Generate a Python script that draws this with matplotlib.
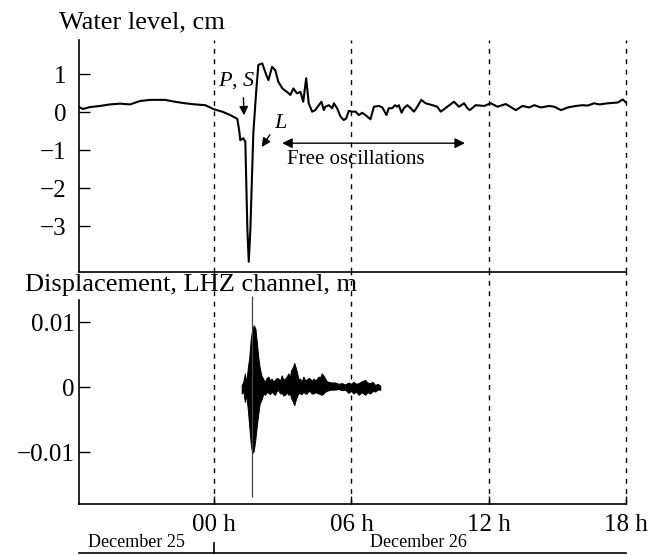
import numpy as np
import matplotlib
matplotlib.use('Agg')
import matplotlib.pyplot as plt

plt.rcParams['font.family'] = ['Liberation Serif', 'DejaVu Serif']
plt.rcParams['mathtext.fontset'] = 'custom'
plt.rcParams['mathtext.it'] = 'Liberation Serif:italic'
plt.rcParams['mathtext.rm'] = 'Liberation Serif'

# water level, hours from 00 h December 26 -> cm
wl_hours = [-5.91, -5.74, -5.43, -4.99, -4.56, -4.12, -3.68, -3.24, -2.80, -2.15,
            -1.71, -1.27, -0.83, -0.39, 0.00, 0.35, 0.70, 1.01, 1.10, 1.14,
            1.27, 1.36, 1.45, 1.51, 1.58, 1.71, 1.84, 1.93, 2.10, 2.28,
            2.37, 2.53, 2.67, 2.80, 2.98, 3.18, 3.33, 3.46, 3.62, 3.77,
            3.89, 4.02, 4.13, 4.28, 4.42, 4.57, 4.69, 4.79, 4.86, 5.01,
            5.16, 5.23, 5.37, 5.52, 5.66, 5.77, 5.88, 6.03, 6.18, 6.32,
            6.47, 6.61, 6.83, 6.98, 7.20, 7.35, 7.53, 7.63, 7.78, 7.90,
            8.00, 8.07, 8.19, 8.29, 8.44, 8.59, 8.73, 8.88, 9.05, 9.24,
            9.54, 9.75, 9.90, 10.19, 10.48, 10.70, 10.92, 11.07, 11.17, 11.43,
            11.80, 12.09, 12.38, 12.75, 13.18, 13.48, 13.77, 13.99, 14.28, 14.64,
            14.86, 15.16, 15.45, 15.81, 16.11, 16.32, 16.61, 16.83, 17.20, 17.64,
            17.86, 18.00]
wl_cm = [0.13, 0.08, 0.13, 0.16, 0.20, 0.22, 0.20, 0.29, 0.32, 0.32,
         0.27, 0.23, 0.20, 0.18, 0.07, 0.01, -0.08, -0.18, -0.52, -0.74,
         -0.69, -0.78, -3.10, -3.94, -3.10, -0.55, 0.58, 1.24, 1.28, 0.97,
         0.84, 1.19, 1.10, 0.80, 0.62, 0.53, 0.45, 0.62, 0.49, 0.53,
         0.27, 0.89, 0.23, 0.01, 0.05, 0.18, 0.27, 0.05, 0.14, 0.18,
         0.10, 0.23, 0.10, -0.12, -0.21, -0.17, 0.03, 0.01, 0.01, -0.08,
         -0.02, -0.08, -0.19, 0.14, 0.16, 0.12, -0.08, 0.10, 0.10, 0.18,
         0.14, 0.18, -0.02, 0.10, 0.18, 0.10, 0.01, 0.14, 0.32, 0.23,
         0.18, 0.14, 0.01, 0.14, 0.27, 0.14, 0.23, 0.10, 0.05, 0.18,
         0.16, 0.23, 0.14, 0.21, 0.05, 0.16, 0.12, 0.18, 0.12, 0.16,
         0.14, 0.05, 0.12, 0.16, 0.18, 0.17, 0.23, 0.20, 0.23, 0.25,
         0.33, 0.25]

# LHZ displacement envelope (upper / lower swing), m
sz_hours = [1.20, 1.27, 1.34, 1.40, 1.47, 1.53, 1.60, 1.66, 1.73, 1.80,
            1.86, 1.93, 1.99, 2.06, 2.15, 2.22, 2.29, 2.37, 2.44, 2.51,
            2.58, 2.66, 2.73, 2.80, 2.88, 2.95, 3.02, 3.10, 3.17, 3.24,
            3.31, 3.36, 3.43, 3.50, 3.56, 3.61, 3.68, 3.75, 3.82, 3.90,
            3.97, 4.04, 4.12, 4.19, 4.26, 4.34, 4.42, 4.56, 4.63, 4.70,
            4.77, 4.85, 4.92, 4.99, 5.12, 5.29, 5.43, 5.58, 5.72, 5.87,
            5.98, 6.09, 6.20, 6.31, 6.45, 6.60, 6.70, 6.82, 6.92, 7.04,
            7.14, 7.26]
sz_upper = [0.0003, 0.0008, 0.0021, 0.0006, 0.0030, 0.0045, 0.0075, 0.0088, 0.0095, 0.0090,
            0.0070, 0.0045, 0.0030, 0.0018, 0.0012, 0.0008, 0.0014, 0.0016, 0.0010, 0.0013,
            0.0009, 0.0011, 0.0014, 0.0013, 0.0010, 0.0018, 0.0011, 0.0013, 0.0016, 0.0021,
            0.0015, 0.0026, 0.0030, 0.0037, 0.0030, 0.0024, 0.0012, 0.0013, 0.0008, 0.0016,
            0.0011, 0.0011, 0.0014, 0.0013, 0.0009, 0.0013, 0.0010, 0.0016, 0.0015, 0.0021,
            0.0018, 0.0013, 0.0009, 0.0008, 0.0007, 0.0007, 0.0005, 0.0006, 0.0004, 0.0007,
            0.0005, 0.0008, 0.0005, 0.0006, 0.0009, 0.0011, 0.0007, 0.0006, 0.0008, 0.0003,
            0.0005, 0.0002]
sz_lower = [-0.0010, -0.0006, -0.0023, -0.0012, -0.0035, -0.0060, -0.0088, -0.0102, -0.0098, -0.0080,
            -0.0060, -0.0040, -0.0025, -0.0020, -0.0010, -0.0012, -0.0008, -0.0009, -0.0011, -0.0007,
            -0.0010, -0.0012, -0.0006, -0.0005, -0.0010, -0.0009, -0.0013, -0.0012, -0.0008, -0.0012,
            -0.0010, -0.0017, -0.0022, -0.0028, -0.0020, -0.0015, -0.0009, -0.0010, -0.0011, -0.0007,
            -0.0010, -0.0010, -0.0006, -0.0007, -0.0010, -0.0010, -0.0008, -0.0010, -0.0011, -0.0012,
            -0.0010, -0.0007, -0.0006, -0.0005, -0.0004, -0.0004, -0.0003, -0.0005, -0.0004, -0.0009,
            -0.0006, -0.0010, -0.0007, -0.0012, -0.0008, -0.0012, -0.0008, -0.0010, -0.0006, -0.0007,
            -0.0004, -0.0004]
event_hour = 1.66

grid_hours = [0, 6, 12, 18]
grid_labels = ['00 h', '06 h', '12 h', '18 h']
xmin, xmax = -5.91, 18.0

fig = plt.figure(figsize=(6.48, 5.55), dpi=100)
ax1 = fig.add_axes([0.1219, 0.5099, 0.8442, 0.4180])
ax2 = fig.add_axes([0.1219, 0.0919, 0.8442, 0.4180])
ax2.patch.set_visible(False)

# top panel
ax1.plot(wl_hours, wl_cm, color='black', lw=1.5)
ax1.set_xlim(xmin, xmax)
ax1.set_ylim(-4.21, 1.895)
ax1.set_yticks([-3, -2, -1, 0, 1])
ax1.set_yticklabels(['\u22123', '\u22122', '\u22121', '0', '1'])
ax1.set_xticks([])
for s in ['top', 'right']:
    ax1.spines[s].set_visible(False)
ax1.tick_params(axis='y', direction='in', length=8, width=1, labelsize=18, pad=9)

ax1.annotate('', xy=(1.31, -0.16), xytext=(1.27, 0.45),
             arrowprops=dict(arrowstyle='-|>', color='black', lw=1, mutation_scale=13))
ax1.text(1.0, 0.84, '$P$, $S$', fontsize=16, ha='center', va='center')
ax1.annotate('', xy=(2.01, -0.98), xytext=(2.50, -0.54),
             arrowprops=dict(arrowstyle='-|>', color='black', lw=1, mutation_scale=13))
ax1.text(2.89, -0.29, '$L$', fontsize=16, ha='center', va='center')
ax1.annotate('', xy=(2.85, -0.82), xytext=(11.08, -0.82),
             arrowprops=dict(arrowstyle='<|-|>', color='black', lw=1,
                             mutation_scale=15))
ax1.text(6.18, -1.26, 'Free oscillations', fontsize=15, ha='center', va='center')

# bottom panel
ax2.fill_between(sz_hours, sz_lower, sz_upper, color='black', lw=0.7)
ax2.vlines(event_hour, -0.0169, 0.0140, color='#444444', lw=0.9)
ax2.set_xlim(xmin, xmax)
ax2.set_ylim(-0.0180, 0.0177)
ax2.set_yticks([-0.01, 0, 0.01])
ax2.set_yticklabels(['\u22120.01', '0', '0.01'])
ax2.set_xticks(grid_hours)
ax2.set_xticklabels(grid_labels)
for s in ['top', 'right']:
    ax2.spines[s].set_visible(False)
ax2.spines['left'].set_bounds(-0.0180, 0.0134)
ax2.tick_params(axis='y', direction='in', length=8, width=1, labelsize=18, pad=3)
ax2.tick_params(axis='x', direction='in', length=6, width=1, labelsize=18, pad=7)

for ax in (ax1, ax2):
    for h in grid_hours:
        ax.axvline(h, color='black', lw=1, linestyle=(0, (3.5, 4)), clip_on=False)
    ax.spines['left'].set_linewidth(1.2)
    ax.spines['bottom'].set_linewidth(1.2)

# date strip under the time axis
tr = ax2.get_xaxis_transform()
ax2.plot([xmin, xmax], [-0.211, -0.211], color='black', lw=1.2, transform=tr, clip_on=False)
ax2.plot([0, 0], [-0.211, -0.168], color='black', lw=1.2, transform=tr, clip_on=False)
ax2.text(-3.38, -0.168, 'December 25', fontsize=13, ha='center', va='center', transform=tr)
ax2.text(8.93, -0.168, 'December 26', fontsize=13, ha='center', va='center', transform=tr)

fig.text(59 / 648, 1 - 22 / 555, 'Water level, cm', fontsize=19, ha='left', va='center')
fig.text(25 / 648, 1 - 285 / 555, 'Displacement, LHZ channel, m', fontsize=19,
         ha='left', va='center')

fig.savefig('out.png', dpi=100)
